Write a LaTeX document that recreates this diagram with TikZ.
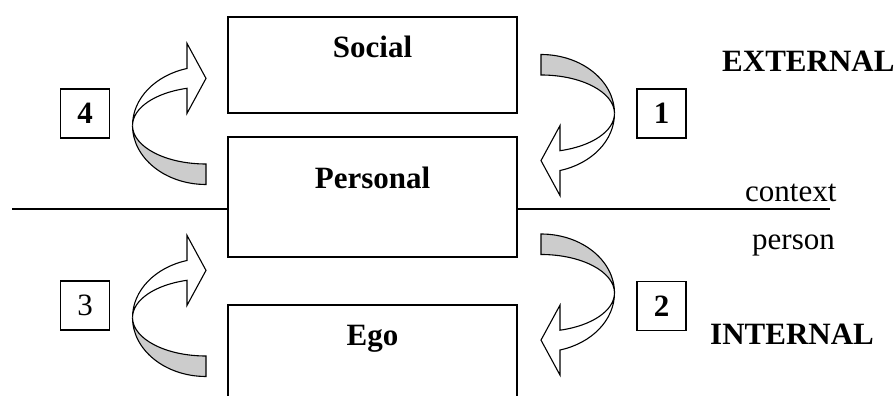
\documentclass[tikz,border=0pt]{standalone}
\usepackage{fontspec}
\setmainfont{Liberation Serif}
\usetikzlibrary{positioning,calc}

\tikzset{
  layer/.style={draw, line width=1.1pt, minimum width=289pt, inner sep=0pt},
  numbox/.style={draw, line width=1.1pt, minimum size=49pt, inner sep=0pt, font=\fontsize{31}{37}\selectfont\bfseries},
  bigtxt/.style={font=\fontsize{31}{37}\selectfont\bfseries, inner sep=0pt, anchor=base},
  smalltxt/.style={font=\fontsize{31}{37}\selectfont, inner sep=0pt, anchor=base west},
  curvarrow/.pic={
    % grey underside of the ribbon
    \draw[line width=1.1pt, fill=black!20] (-73.5,0) arc[start angle=180, end angle=270, x radius=73.5, y radius=59]
      -- (0,-38.5) arc[start angle=270, end angle=180, x radius=73.5, y radius=38.5] -- cycle;
    % white front part with the head
    \draw[line width=1.1pt, fill=white] (-19,57) arc[start angle=105, end angle=180, x radius=73.5, y radius=59]
      arc[start angle=180, end angle=105, x radius=73.5, y radius=38.5]
      -- (-19,12.1) -- (0,47.1) -- (-19,82.1) -- cycle;
  }
}

\begin{document}
\begin{tikzpicture}[x=1pt,y=1pt]
    \clip (0,0) rectangle (895,396);

    % the three layers
    \node[layer, minimum height=96pt] (social) at (372.5,331) {};
    \node[layer, minimum height=120pt] (personal) at (372.5,199) {};
    \node[layer, minimum height=110pt] (ego) at (372.5,36) {}; % bottom cut off
    \node[bigtxt] (socialtxt) at ([yshift=-41pt]social.north) {Social};
    \node[bigtxt] (personaltxt) at ([yshift=-52pt]personal.north) {Personal};
    \node[bigtxt] (egotxt) at ([yshift=-41pt]ego.north) {Ego};

    % context / person border
    \coordinate (lineL) at (12,187);
    \coordinate (lineR) at (830,187);
    \draw[line width=1.1pt] (lineL) -- (lineL -| personal.west);
    \draw[line width=1.1pt] (lineR -| personal.east) -- (lineR);
    \node[smalltxt] (context) at (745,194) {context};
    \node[smalltxt] (person) at (752,146) {person};

    \node[bigtxt, anchor=base west] (external) at (722,324) {EXTERNAL};
    \node[bigtxt, anchor=base west] (internal) at (710,51) {INTERNAL};

    % numbered steps
    \node[numbox] (n4) at (85,282.5) {4};
    \node[numbox, font=\fontsize{31}{37}\selectfont] (n3) at (85,90.5) {3};
    \node[numbox] (n1) at (661.5,282.5) {1};
    \node[numbox] (n2) at (661.5,90) {2};

    % curved arrows
    \pic at (206,270.5) {curvarrow};
    \pic at (206,78.5) {curvarrow};
    \pic[rotate=180] at (541,282.5) {curvarrow};
    \pic[rotate=180] at (541,103) {curvarrow};
\end{tikzpicture}
\end{document}
